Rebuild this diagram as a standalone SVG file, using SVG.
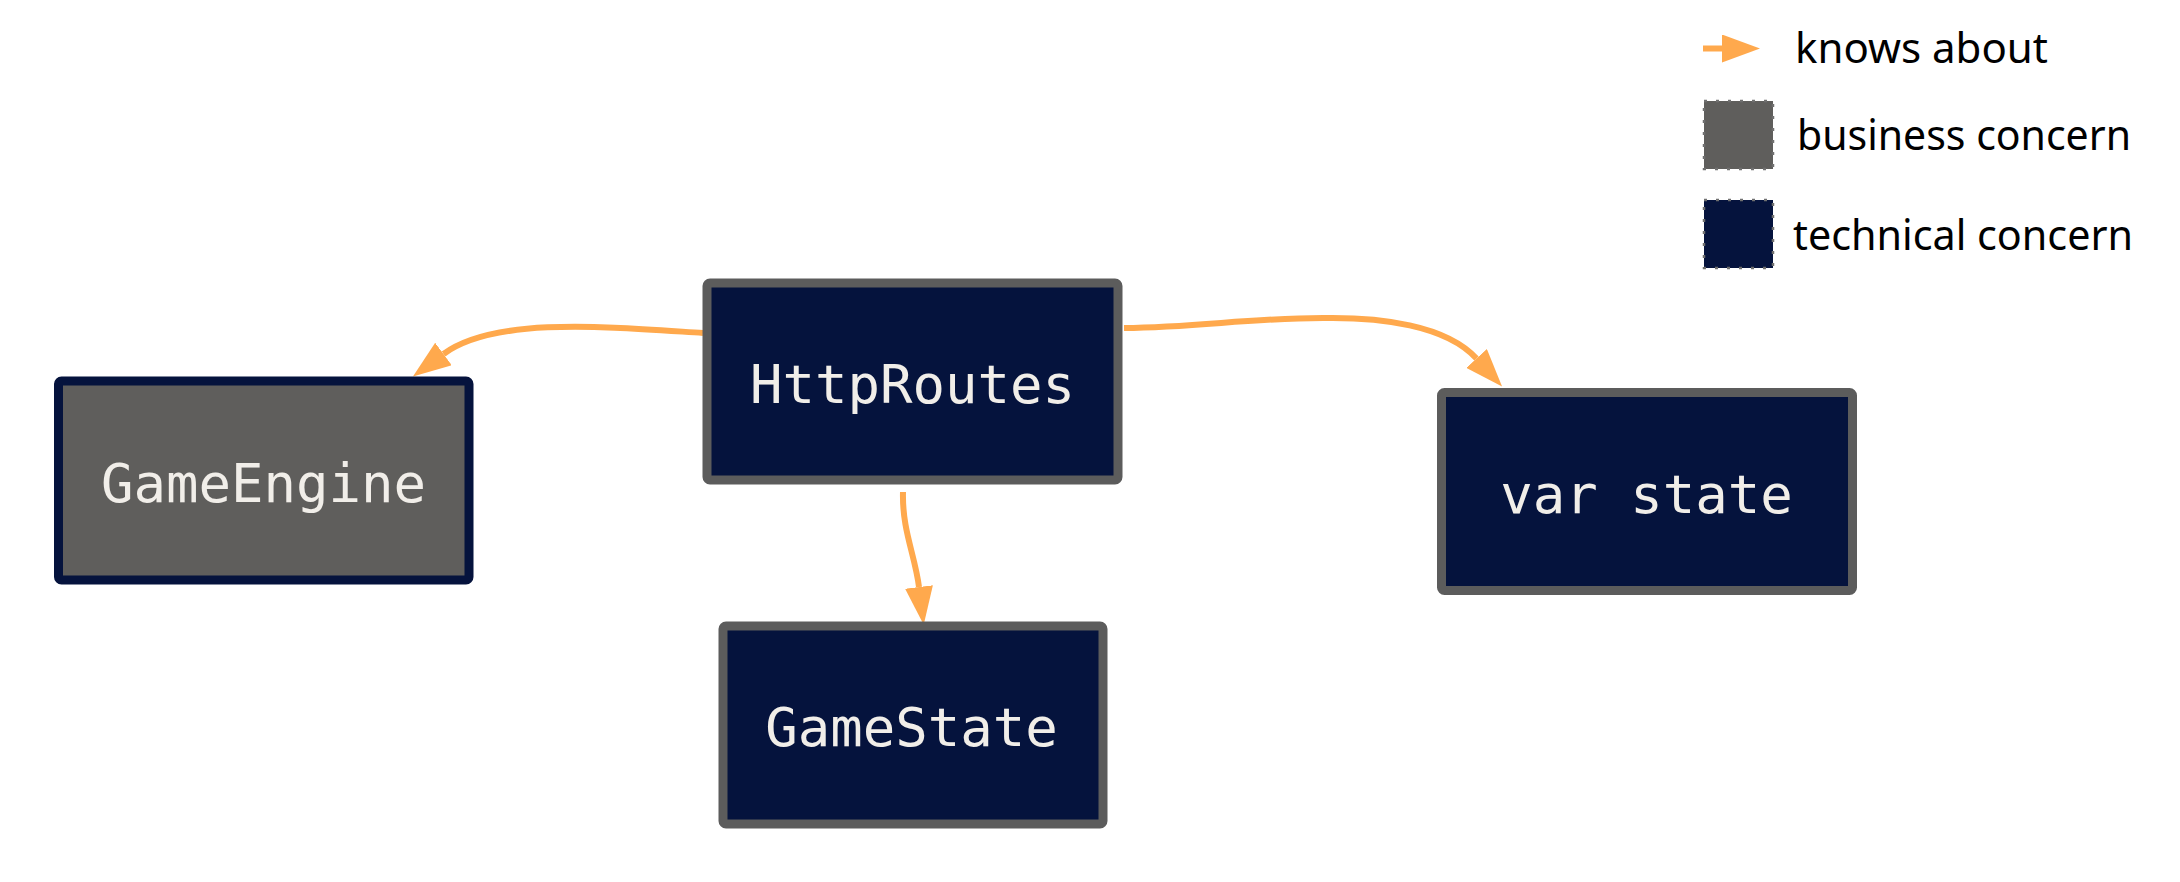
<svg xmlns="http://www.w3.org/2000/svg" width="2180" height="882" viewBox="0 0 2180 882">
<style>
.node rect{stroke-width:9}
.tech{fill:#05133d;stroke:#5c5c5c}
.biz{fill:#5f5e5c;stroke:#05133d}
.label{font-family:"DejaVu Sans Mono",monospace;font-size:54px;fill:#f1eee9;text-anchor:middle}
.edge{fill:none;stroke:#ffa94d;stroke-width:6;marker-end:url(#arrow)}
.legend-text{font-family:"Noto Sans","Liberation Sans",sans-serif;font-size:41px;fill:#000}
.swatch{stroke:#707070;stroke-width:2.5;stroke-dasharray:3 9}
</style>
<defs>
<marker id="arrow" markerUnits="userSpaceOnUse" viewBox="0 0 38 28" markerWidth="38" markerHeight="28" refX="0" refY="14" orient="auto">
<path d="M0,0 L38,14 L0,28 z" fill="#ffa94d"/>
</marker>
</defs>
<rect width="2180" height="882" fill="#fff"/>
<g id="connectors">
<path class="edge" d="M703,333 C610,327 495,316 443.5,354"/>
<path class="edge" d="M903,492 C902,530 915,555 919,587"/>
<path class="edge" d="M1124,328 C1200,327 1250,318 1323,318 C1380,317 1446,325 1476.5,358.5"/>
</g>
<g id="HttpRoutes" class="node">
<rect class="tech" x="707" y="283" width="411" height="197" rx="3"/>
<text class="label" x="912.5" y="403">HttpRoutes</text>
</g>
<g id="GameEngine" class="node">
<rect class="biz" x="58.5" y="381" width="410.5" height="199" rx="3"/>
<text class="label" x="263.5" y="502">GameEngine</text>
</g>
<g id="GameState" class="node">
<rect class="tech" x="723" y="626" width="380" height="198" rx="3"/>
<text class="label" x="911.5" y="746">GameState</text>
</g>
<g id="VarState" class="node">
<rect class="tech" x="1441.5" y="392.5" width="411" height="198" rx="3"/>
<text class="label" x="1646.5" y="513">var state</text>
</g>
<g id="legend">
<path class="edge" d="M1703,48.5 L1722,48.5"/>
<text class="legend-text" x="1795" y="63" textLength="253" lengthAdjust="spacingAndGlyphs">knows about</text>
<rect class="swatch" x="1704" y="101" width="69" height="68" fill="#5f5e5c"/>
<text class="legend-text" x="1797" y="150" textLength="334" lengthAdjust="spacingAndGlyphs">business concern</text>
<rect class="swatch" x="1704" y="200" width="69" height="68" fill="#05133d"/>
<text class="legend-text" x="1793" y="250" textLength="340" lengthAdjust="spacingAndGlyphs">technical concern</text>
</g>
</svg>
